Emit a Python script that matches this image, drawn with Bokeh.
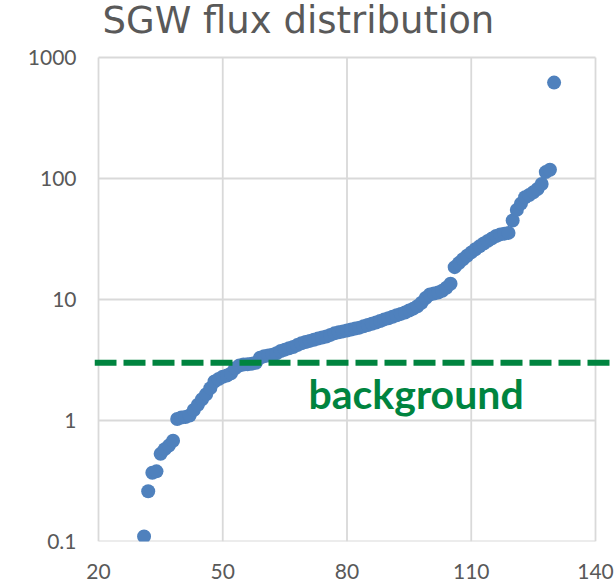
import math
from bokeh.plotting import figure
from bokeh.models import FixedTicker, NumeralTickFormatter, Span, Label, Range1d
from bokeh.embed import file_html
from bokeh.resources import INLINE

# ---- data ----
rank = list(range(31, 131))
flux = [
    0.11, 0.26, 0.37, 0.38, 0.53, 0.58, 0.62, 0.68, 1.03, 1.06,
    1.07, 1.10, 1.22, 1.35, 1.50, 1.65, 1.85, 2.10, 2.20, 2.30,
    2.35, 2.45, 2.70, 2.85, 2.90, 2.92, 2.95, 3.00, 3.30, 3.40,
    3.45, 3.50, 3.60, 3.75, 3.85, 3.95, 4.05, 4.20, 4.35, 4.45,
    4.55, 4.65, 4.75, 4.85, 4.95, 5.10, 5.25, 5.35, 5.45, 5.55,
    5.65, 5.75, 5.85, 6.00, 6.15, 6.30, 6.45, 6.65, 6.85, 7.00,
    7.20, 7.40, 7.60, 7.80, 8.10, 8.40, 8.80, 9.40, 10.3, 11.0,
    11.2, 11.4, 11.8, 12.5, 13.5, 18.5, 20.0, 21.5, 23.0, 24.5,
    26.0, 27.5, 29.0, 30.5, 32.0, 33.5, 34.5, 35.0, 35.5, 45.0,
    55.0, 62.0, 70.0, 73.0, 77.0, 82.0, 90.0, 113.0, 118.0, 620.0,
]
x_ticks = [20, 50, 80, 110, 140]
y_ticks = [0.1, 1, 10, 100, 1000]
background_level = 3
title_text = "SGW flux distribution"
background_text = "background"

# ---- layout ----
W, H = 615, 584
frame_left, frame_right, frame_top, frame_bottom = 94, 615, 0, 541
x0_px, x1_px = 98, 595          # pixel columns of the first / last x tick
grid_top_px = 57                # pixel row of the top y tick
ppu = (x1_px - x0_px) / (x_ticks[-1] - x_ticks[0])
x_start = x_ticks[0] - (x0_px - frame_left) / ppu
x_end = x_ticks[-1] + (frame_right - x1_px) / ppu
decade_px = (frame_bottom - grid_top_px) / (math.log10(y_ticks[-1]) - math.log10(y_ticks[0]))
y_start = y_ticks[0]
y_end = 10 ** (math.log10(y_ticks[-1]) + (grid_top_px - frame_top) / decade_px)


def px_to_x(px):
    return x_start + (px - frame_left) / ppu


def py_to_y(py):
    return 10 ** (math.log10(y_start) + (frame_bottom - py) / decade_px)


GRID = "#d9d9d9"
BLUE = "#4f81bd"
GREEN = "#00843f"
TEXT = "#595959"
FONT = "Lato"

p = figure(
    width=W, height=H,
    x_range=Range1d(x_start, x_end),
    y_range=Range1d(y_start, y_end),
    y_axis_type="log",
    output_backend="svg", toolbar_location=None,
    min_border_left=frame_left, min_border_right=W - frame_right,
    min_border_top=frame_top, min_border_bottom=H - frame_bottom,
)
p.outline_line_color = None
p.background_fill_color = "white"
p.border_fill_color = "white"
p.xgrid.visible = False
p.ygrid.visible = False

# grid lines drawn from tick arrays (limited to the tick span)
n = len(x_ticks)
p.segment(x0=x_ticks, y0=[y_ticks[0]] * n, x1=x_ticks, y1=[y_ticks[-1]] * n,
          line_color=GRID, line_width=1.8)
m = len(y_ticks)
p.segment(x0=[x_ticks[0]] * m, y0=y_ticks, x1=[x_ticks[-1]] * m, y1=y_ticks,
          line_color=GRID, line_width=1.8)

p.scatter(rank, flux, size=14, fill_color=BLUE, line_color=BLUE, line_width=0)

p.add_layout(Span(location=background_level, dimension="width",
                  line_color=GREEN, line_width=6, line_dash="22 7"))

p.add_layout(Label(x=px_to_x(308), y=py_to_y(408), y_offset=15,
                   text=background_text,
                   text_color=GREEN, text_font=FONT, text_font_size="41px",
                   text_font_style="bold",
                   text_baseline="alphabetic"))

# chart title
p.add_layout(Label(x=px_to_x(102), y=py_to_y(32), y_offset=12,
                   text=title_text,
                   text_color=TEXT, text_font="DejaVu Sans", text_font_size="37px",
                   text_baseline="alphabetic"))

# axes
for ax in (p.xaxis[0], p.yaxis[0]):
    ax.axis_line_color = None
    ax.major_tick_line_color = None
    ax.minor_tick_line_color = None
    ax.major_label_text_font = FONT
    ax.major_label_text_font_size = "21px"
    ax.major_label_text_color = TEXT
p.xaxis.ticker = FixedTicker(ticks=x_ticks)
p.yaxis.ticker = FixedTicker(ticks=y_ticks)
p.yaxis.formatter = NumeralTickFormatter(format="0[.]0")
p.xaxis.major_label_standoff = 16
p.yaxis.major_label_standoff = 12

open("out.html", "w").write(file_html(p, INLINE))
